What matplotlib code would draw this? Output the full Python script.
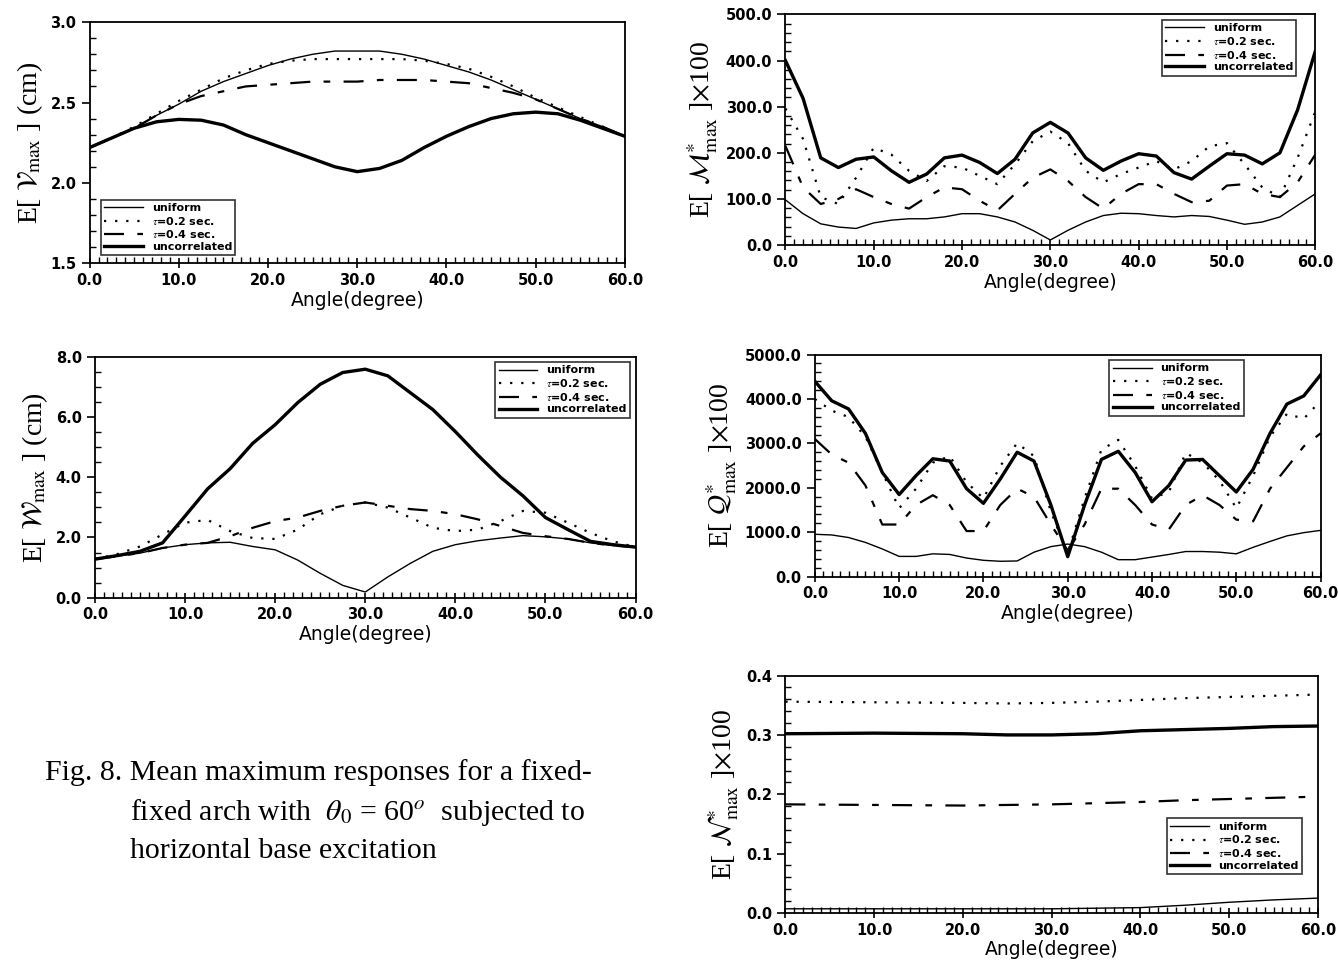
import matplotlib
matplotlib.use("Agg")
import matplotlib.pyplot as plt
from matplotlib.ticker import MultipleLocator, FormatStrFormatter
import numpy as np

plt.rcParams['mathtext.fontset'] = 'stix'
plt.rcParams['font.family'] = 'DejaVu Sans'

series_names = ['uniform', r'$\tau$=0.2 sec.', r'$\tau$=0.4 sec.', 'uncorrelated']

# ---- E[V_max] (cm) ----
v_angle = [0, 2.5, 5, 7.5, 10, 12.5, 15, 17.5, 20, 22.5, 25, 27.5, 30,
           32.5, 35, 37.5, 40, 42.5, 45, 47.5, 50, 52.5, 55, 57.5, 60]
v_uniform = [2.22, 2.28, 2.34, 2.42, 2.49, 2.57, 2.63, 2.68, 2.73, 2.77, 2.80, 2.82, 2.82,
             2.82, 2.80, 2.77, 2.73, 2.69, 2.64, 2.58, 2.52, 2.46, 2.40, 2.35, 2.29]
v_tau02 = [2.22, 2.28, 2.35, 2.43, 2.51, 2.58, 2.65, 2.70, 2.74, 2.76, 2.77, 2.77, 2.77,
           2.77, 2.77, 2.76, 2.74, 2.71, 2.66, 2.60, 2.53, 2.47, 2.41, 2.35, 2.29]
v_tau04 = [2.22, 2.28, 2.34, 2.42, 2.49, 2.54, 2.57, 2.60, 2.61, 2.62, 2.63, 2.63, 2.63,
           2.64, 2.64, 2.64, 2.63, 2.62, 2.59, 2.56, 2.52, 2.46, 2.40, 2.35, 2.29]
v_uncorr = [2.22, 2.28, 2.34, 2.38, 2.395, 2.39, 2.36, 2.30, 2.25, 2.20, 2.15, 2.10, 2.07,
            2.09, 2.14, 2.22, 2.29, 2.35, 2.40, 2.43, 2.44, 2.43, 2.39, 2.34, 2.29]

# ---- E[M*_max] x100 ----
m_angle = list(range(0, 61, 2))
m_uniform = [98, 68, 46, 39, 36, 48, 54, 57, 57, 61, 68, 68, 61, 50, 32, 11,
             32, 50, 64, 69, 68, 64, 61, 64, 62, 54, 45, 50, 61, 86, 111]
m_tau02 = [296, 230, 104, 89, 146, 211, 196, 161, 139, 171, 168, 150, 132, 175, 225, 246,
           221, 161, 136, 154, 168, 182, 164, 182, 214, 221, 175, 125, 104, 189, 289]
m_tau04 = [215, 125, 89, 100, 121, 104, 89, 79, 104, 125, 121, 96, 75, 111, 146, 164,
           139, 104, 79, 111, 132, 132, 111, 93, 96, 129, 132, 111, 104, 136, 196]
m_uncorr = [400, 318, 189, 168, 186, 191, 161, 136, 154, 189, 195, 179, 155, 186, 243, 266,
            243, 189, 162, 182, 198, 193, 157, 143, 171, 198, 195, 176, 200, 293, 420]

# ---- E[W_max] (cm) ----
w_angle = [0, 2.5, 5, 7.5, 10, 12.5, 15, 17.5, 20, 22.5, 25, 27.5, 30,
           32.5, 35, 37.5, 40, 42.5, 45, 47.5, 50, 52.5, 55, 57.5, 60]
w_uniform = [1.28, 1.38, 1.48, 1.65, 1.76, 1.82, 1.84, 1.70, 1.59, 1.25, 0.81, 0.41, 0.19,
             0.69, 1.14, 1.54, 1.76, 1.89, 1.98, 2.06, 2.02, 1.95, 1.82, 1.73, 1.68]
w_tau02 = [1.28, 1.45, 1.70, 2.10, 2.49, 2.58, 2.21, 1.98, 1.95, 2.26, 2.77, 3.05, 3.16,
           2.99, 2.66, 2.32, 2.21, 2.26, 2.54, 2.88, 2.82, 2.49, 2.15, 1.87, 1.68]
w_tau04 = [1.28, 1.38, 1.48, 1.65, 1.76, 1.82, 2.04, 2.32, 2.54, 2.66, 2.88, 3.05, 3.16,
           3.05, 2.94, 2.88, 2.77, 2.60, 2.38, 2.15, 2.04, 1.95, 1.82, 1.73, 1.68]
w_uncorr = [1.28, 1.40, 1.54, 1.82, 2.71, 3.61, 4.28, 5.12, 5.74, 6.47, 7.08, 7.47, 7.58,
            7.36, 6.80, 6.24, 5.51, 4.73, 4.00, 3.38, 2.66, 2.26, 1.87, 1.76, 1.68]

# ---- E[Q*_max] x100 ----
q_angle = list(range(0, 61, 2))
q_uniform = [953, 938, 880, 770, 623, 455, 455, 513, 499, 418, 367, 345, 352, 550, 675, 733,
             675, 550, 381, 381, 440, 499, 565, 565, 550, 513, 660, 792, 917, 990, 1041]
q_tau02 = [4000, 3739, 3592, 3152, 2346, 1540, 1980, 2566, 2713, 2126, 1760, 2493, 3006, 2713,
           1466, 530, 1760, 2860, 3079, 2493, 1760, 1906, 2786, 2566, 2163, 1540, 2273, 3152,
           3666, 3556, 3959]
q_tau04 = [3100, 2749, 2566, 2053, 1173, 1173, 1613, 1833, 1613, 1026, 1026, 1613, 1980, 1796,
           1173, 587, 1173, 1980, 1980, 1613, 1173, 1063, 1613, 1833, 1613, 1283, 1246, 1980,
           2456, 2933, 3226]
q_uncorr = [4399, 3960, 3776, 3226, 2346, 1848, 2273, 2654, 2603, 1980, 1650, 2200, 2801, 2603,
            1613, 450, 1613, 2639, 2823, 2346, 1686, 2053, 2625, 2639, 2273, 1906, 2419, 3226,
            3886, 4069, 4545]

# ---- E[N*_max] x100 ----
n_angle = [0, 10, 20, 25, 30, 35, 40, 45, 50, 55, 60]
n_uniform = [0.007, 0.007, 0.007, 0.007, 0.007, 0.008, 0.009, 0.013, 0.018, 0.022, 0.025]
n_tau02 = [0.356, 0.355, 0.354, 0.353, 0.354, 0.356, 0.359, 0.362, 0.364, 0.366, 0.368]
n_tau04 = [0.183, 0.182, 0.181, 0.182, 0.183, 0.185, 0.187, 0.190, 0.192, 0.194, 0.196]
n_uncorr = [0.302, 0.303, 0.302, 0.300, 0.300, 0.302, 0.307, 0.309, 0.311, 0.314, 0.315]

styles = [dict(color='black', lw=1.0, ls='-'),
          dict(color='black', lw=1.6, ls=(0, (1, 4))),
          dict(color='black', lw=1.6, ls=(0, (9, 6, 3, 6))),
          dict(color='black', lw=2.4, ls='-')]


def panel(rect, x, ys, ylim, ymaj, ymin, ylabel, loc, legend_box=None):
    ax = fig.add_axes(rect)
    for y, st, name in zip(ys, styles, series_names):
        ax.plot(x, y, label=name, **st)
    ax.set_xlim(0, 60)
    ax.set_ylim(*ylim)
    ax.xaxis.set_major_locator(MultipleLocator(10))
    ax.xaxis.set_minor_locator(MultipleLocator(1))
    ax.yaxis.set_major_locator(MultipleLocator(ymaj))
    ax.yaxis.set_minor_locator(MultipleLocator(ymin))
    ax.xaxis.set_major_formatter(FormatStrFormatter('%.1f'))
    ax.yaxis.set_major_formatter(FormatStrFormatter('%.1f'))
    ax.tick_params(which='major', direction='out', length=6, width=1.2, labelsize=10.5)
    ax.tick_params(which='minor', direction='in', length=4, width=1.0)
    ax.tick_params(axis='x', which='major', direction='inout', length=7)
    for lab in ax.get_xticklabels() + ax.get_yticklabels():
        lab.set_fontweight('bold')
    for sp in ax.spines.values():
        sp.set_linewidth(1.3)
    ax.set_xlabel('Angle(degree)', fontsize=13.5, labelpad=2)
    ax.set_ylabel(ylabel, fontsize=20, family='Liberation Serif', labelpad=4)
    leg = ax.legend(loc=loc, bbox_to_anchor=legend_box, frameon=True,
                    fancybox=False, edgecolor='black', handlelength=3.5,
                    labelspacing=0.15, borderpad=0.3,
                    prop={'weight': 'bold', 'size': 8})
    leg.get_frame().set_linewidth(1.2)
    return ax


fig = plt.figure(figsize=(13.38, 9.61), dpi=100)

panel([0.067, 0.726, 0.400, 0.251], v_angle,
      [v_uniform, v_tau02, v_tau04, v_uncorr], (1.5, 3.0), 0.5, 0.1,
      r'E[ $\mathcal{V}_{\rm max}$ ] (cm)', 'lower left', (0.01, 0.01))

panel([0.587, 0.745, 0.396, 0.240], m_angle,
      [m_uniform, m_tau02, m_tau04, m_uncorr], (0, 500), 100, 20,
      r'E[ $\mathcal{M}^{*}_{\rm max}$ ]$\times$100', 'upper right', (0.975, 1.0))

panel([0.071, 0.378, 0.404, 0.251], w_angle,
      [w_uniform, w_tau02, w_tau04, w_uncorr], (0, 8), 2, 0.5,
      r'E[ $\mathcal{W}_{\rm max}$ ] (cm)', 'upper right', (1.0, 1.0))

panel([0.609, 0.400, 0.378, 0.231], q_angle,
      [q_uniform, q_tau02, q_tau04, q_uncorr], (0, 5000), 1000, 200,
      r'E[ $\mathcal{Q}^{*}_{\rm max}$ ]$\times$100', 'upper right', (0.86, 1.0))

panel([0.587, 0.050, 0.398, 0.247], n_angle,
      [n_uniform, n_tau02, n_tau04, n_uncorr], (0, 0.4), 0.1, 0.02,
      r'E[ $\mathcal{N}^{*}_{\rm max}$ ]$\times$100', 'lower right', (0.98, 0.14))

cap = dict(fontsize=21.5, family='Liberation Serif', va='center', ha='left')
fig.text(45 / 1338, 1 - 773 / 961, 'Fig. 8. Mean maximum responses for a fixed-', **cap)
fig.text(130 / 1338, 1 - 812 / 961,
         r'fixed arch with  $\theta_0$ = 60$^o$  subjected to', **cap)
fig.text(130 / 1338, 1 - 851 / 961, 'horizontal base excitation', **cap)

fig.savefig('out.png', dpi=100)
